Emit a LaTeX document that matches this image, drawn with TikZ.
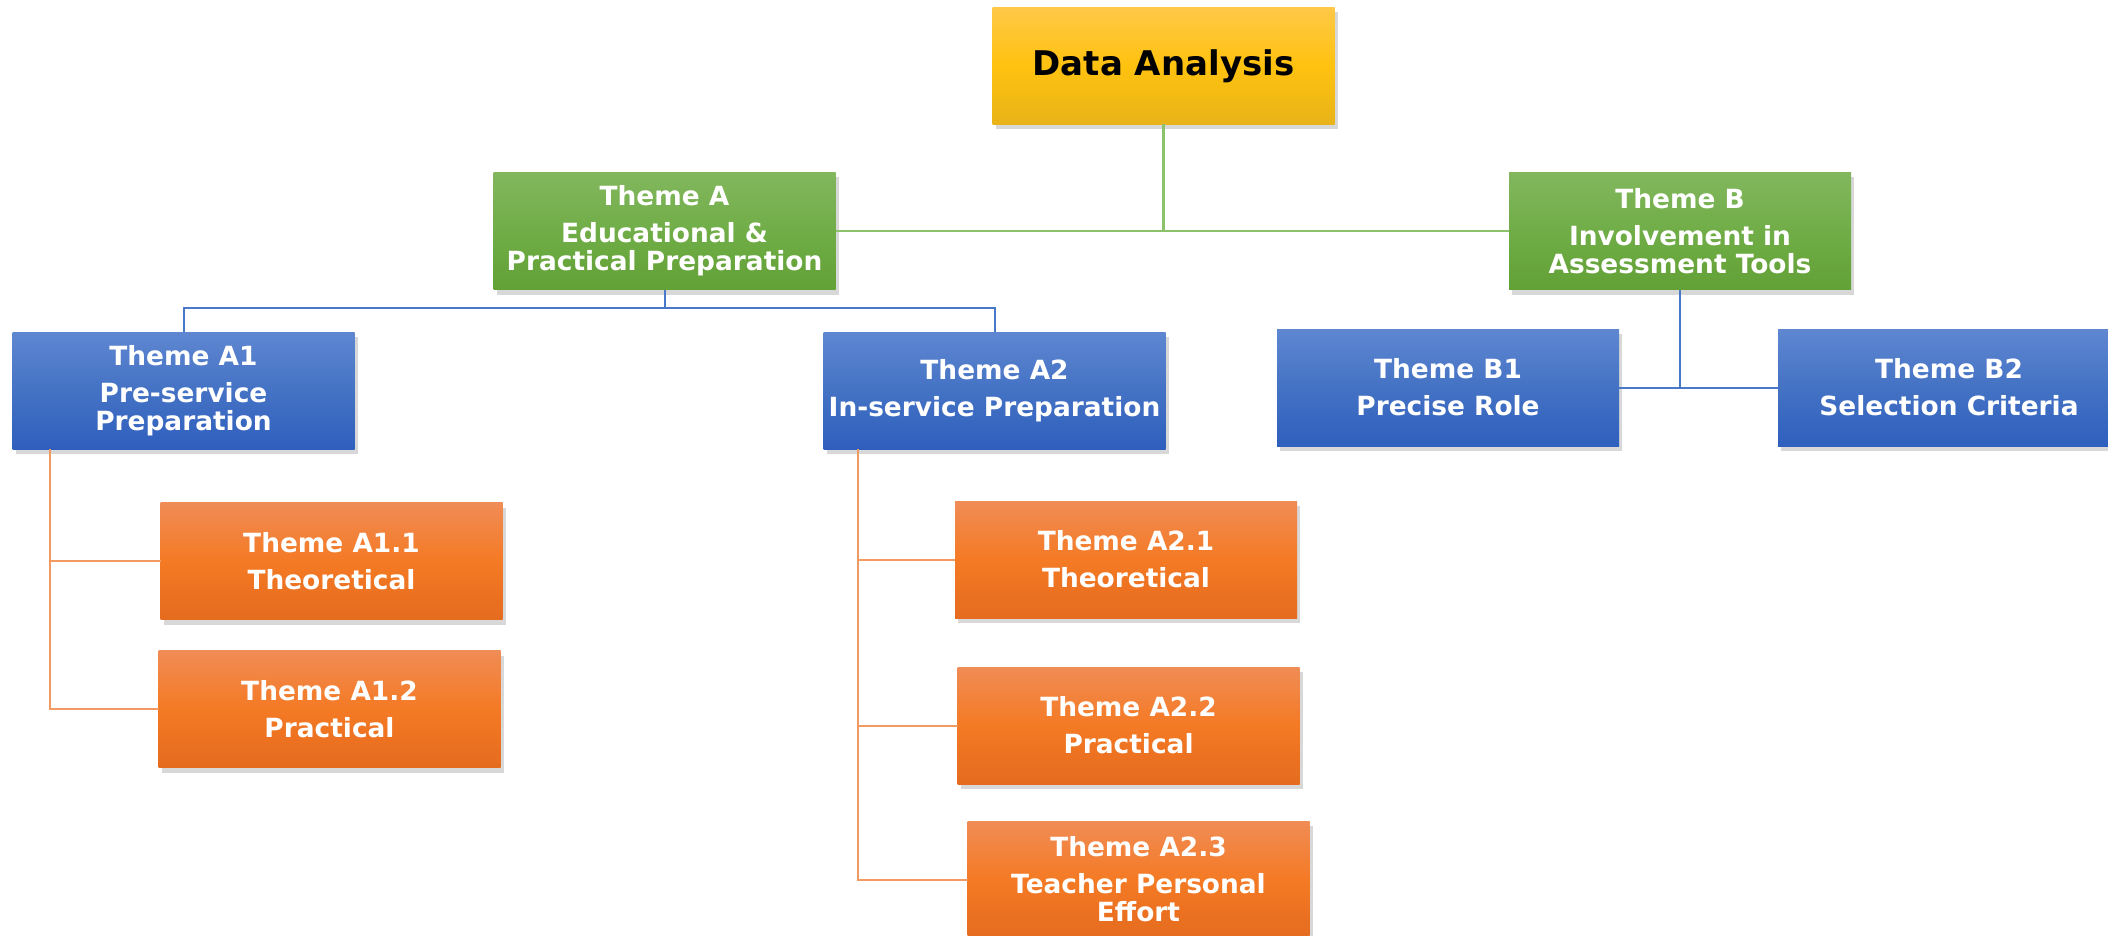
\documentclass[tikz,border=0pt]{standalone}
\usepackage{fontspec}
\setmainfont{DejaVu Sans}
\usetikzlibrary{shadows}
\definecolor{goldT}{HTML}{FFC847}
\definecolor{goldM}{HTML}{FFC20F}
\definecolor{goldB}{HTML}{E8B319}
\definecolor{grnT}{HTML}{82B75E}
\definecolor{grnM}{HTML}{70AD47}
\definecolor{grnB}{HTML}{62A136}
\definecolor{bluT}{HTML}{5F87D1}
\definecolor{bluM}{HTML}{4472C4}
\definecolor{bluB}{HTML}{2F5FBE}
\definecolor{orT}{HTML}{F08C56}
\definecolor{orM}{HTML}{F47A24}
\definecolor{orB}{HTML}{E56B1F}
\definecolor{gLine}{HTML}{8CC26C}
\definecolor{bLine}{HTML}{4A78C8}
\definecolor{oLine}{HTML}{F39A62}
\begin{document}
\begin{tikzpicture}[x=0.5pt,y=-0.5pt,
  box/.style={rectangle, minimum width=171pt, minimum height=58.5pt,
    inner sep=0pt, outer sep=0pt, align=center, text=white,
    font=\fontsize{13.2}{14}\selectfont\bfseries,
    drop shadow={shadow xshift=1.5pt, shadow yshift=-2.5pt, opacity=0.3}},
  goldbox/.style={box, text=black, font=\fontsize{17}{20}\selectfont\bfseries,
    top color=goldT, bottom color=goldB, middle color=goldM},
  greenbox/.style={box, top color=grnT, bottom color=grnB, middle color=grnM},
  bluebox/.style={box, top color=bluT, bottom color=bluB, middle color=bluM},
  orangebox/.style={box, top color=orT, bottom color=orB, middle color=orM},
  gline/.style={draw=gLine, line width=1.3pt},
  bline/.style={draw=bLine, line width=1pt},
  oline/.style={draw=oLine, line width=1pt}]
\fill[white] (0,0) rectangle (2108,936);
\useasboundingbox (0,0) rectangle (2108,936);
\clip (0,0) rectangle (2108,936);

% nodes
\node[goldbox] (DA) at (1163.5,66) {Data Analysis};
\node[greenbox] (A) at (664.5,231) {Theme A\\[4.5pt]Educational \&\\Practical Preparation};
\node[greenbox] (B) at (1680,231) {Theme B\\[4.5pt]Involvement in\\Assessment Tools};
\node[bluebox] (A1) at (183.5,390.5) {Theme A1\\[4.5pt]Pre-service\\Preparation};
\node[bluebox] (A2) at (994.5,390.5) {Theme A2\\[4.5pt]In-service Preparation};
\node[bluebox] (B1) at (1448,387.5) {Theme B1\\[4.5pt]Precise Role};
\node[bluebox] (B2) at (1949,387.5) {Theme B2\\[4.5pt]Selection Criteria};
\node[orangebox] (A11) at (331.5,561) {Theme A1.1\\[4.5pt]Theoretical};
\node[orangebox] (A12) at (329.5,709) {Theme A1.2\\[4.5pt]Practical};
\node[orangebox] (A21) at (1126,559.5) {Theme A2.1\\[4.5pt]Theoretical};
\node[orangebox] (A22) at (1128.5,725.5) {Theme A2.2\\[4.5pt]Practical};
\node[orangebox] (A23) at (1138.5,879.5) {Theme A2.3\\[4.5pt]Teacher Personal\\Effort};

% connectors
\coordinate (jA) at (664.5,308);
\coordinate (tA1) at (50,449);
\coordinate (tA2) at (858,449);
\begin{scope}[on background layer/.try]
\end{scope}
\draw[gline] (A.east) -- (B.west);
\draw[gline] (DA.south) -- (DA.south |- A.east);
\draw[bline] (A.south) -- (jA);
\draw[bline] (A1.north) |- (jA) -| (A2.north);
\draw[bline] (B1.east) -- (B2.west);
\draw[bline] (B.south) -- (B.south |- B1.east);
\draw[oline] (tA1) |- (A11.west);
\draw[oline] (tA1) |- (A12.west);
\draw[oline] (tA2) |- (A21.west);
\draw[oline] (tA2) |- (A22.west);
\draw[oline] (tA2) |- (A23.west);
\end{tikzpicture}
\end{document}
